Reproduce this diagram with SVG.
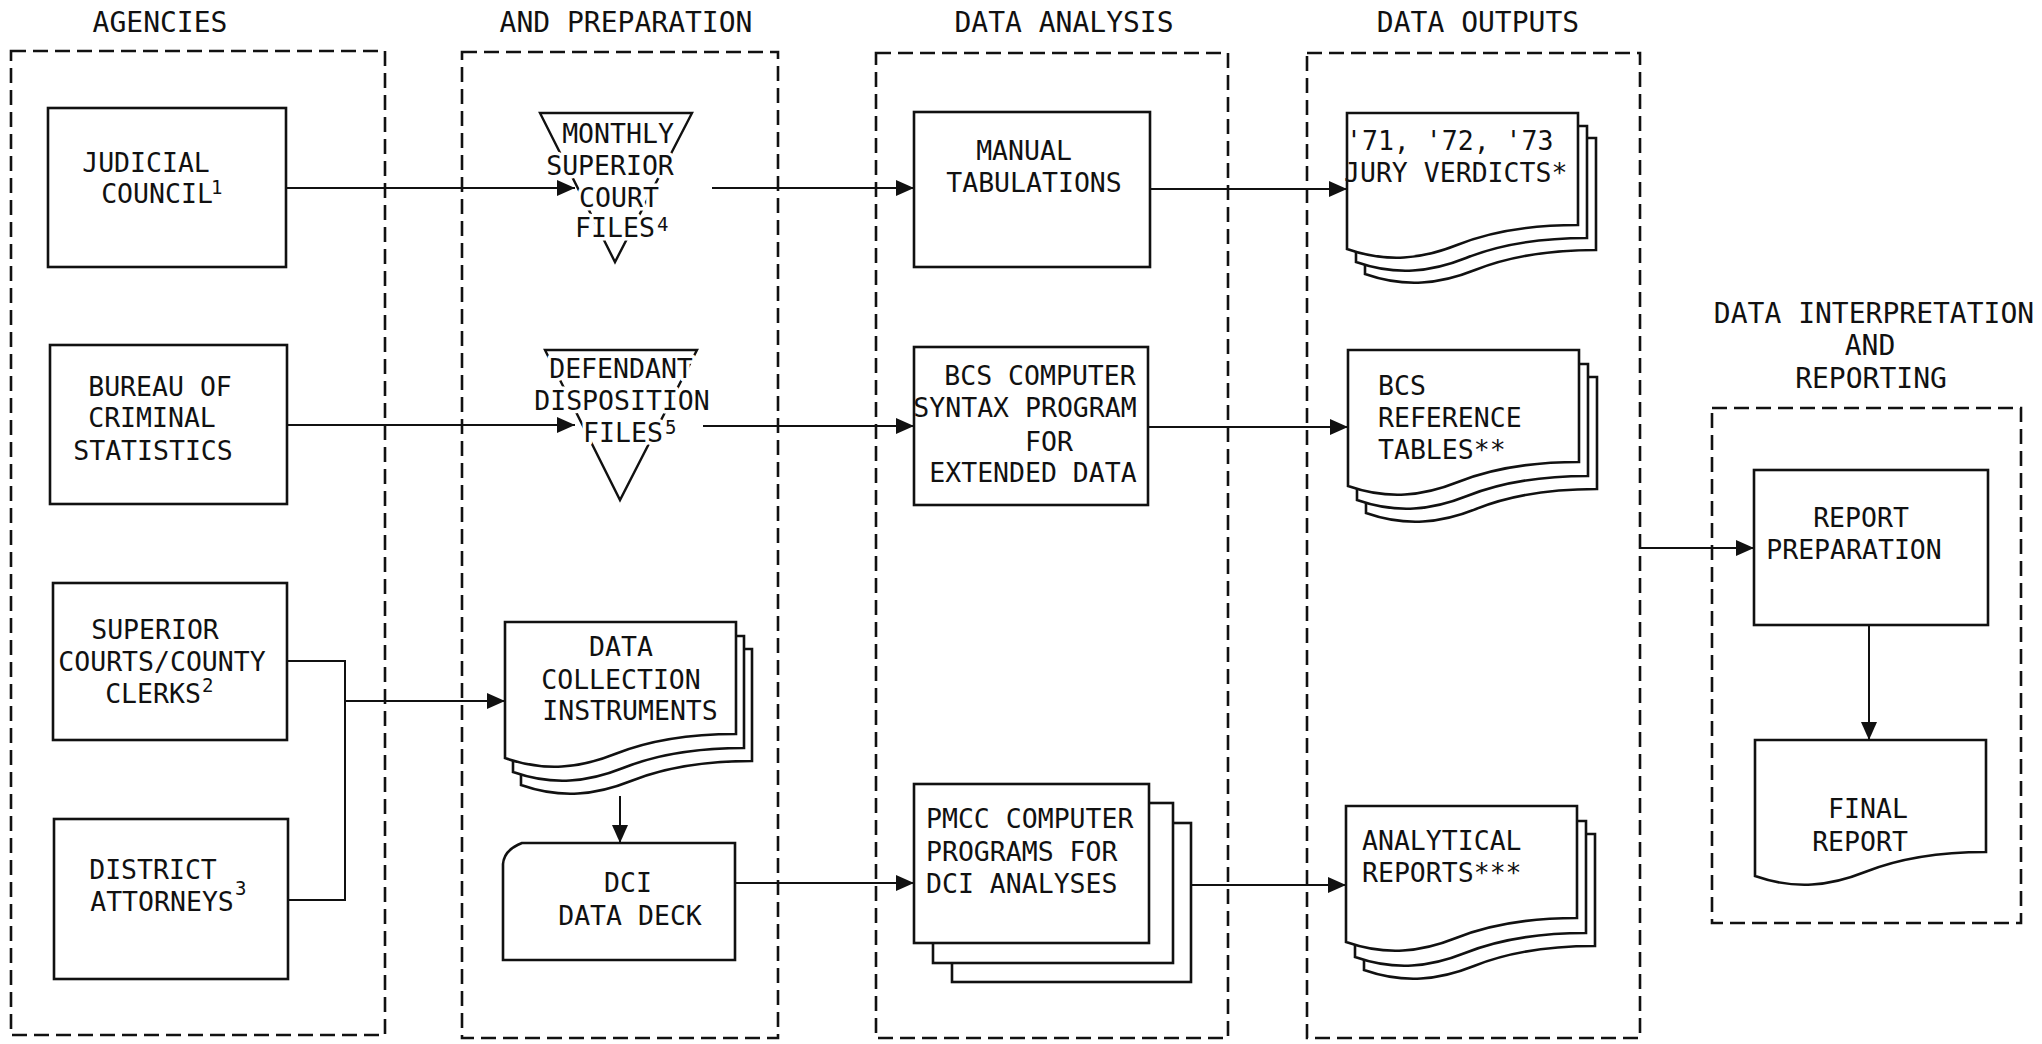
<svg xmlns="http://www.w3.org/2000/svg" xmlns:xlink="http://www.w3.org/1999/xlink" width="2042" height="1044" viewBox="0 0 2042 1044">
  <style>
    text { font-family: "DejaVu Sans Mono", "Liberation Mono", monospace; font-size: 26.5px; fill: #111; }
    .c { text-anchor: middle; }
    .head { font-size: 28px; }
    .sup { font-size: 19px; }
    .halo { paint-order: stroke; stroke: #fff; stroke-width: 7px; stroke-linejoin: round; }
    .frame { fill: none; stroke: #111; stroke-width: 2.6; stroke-dasharray: 15 7; }
    .box { fill: #fff; stroke: #111; stroke-width: 2.6; }
    .tri { fill: none; stroke: #111; stroke-width: 2.4; }
    .link { fill: none; stroke: #111; stroke-width: 2; }
  </style>
  <defs>
    <marker id="arrow" markerUnits="userSpaceOnUse" markerWidth="20" markerHeight="18" refX="18" refY="8" orient="auto">
      <path d="M0,0 L18,8 L0,16 Z" fill="#111"/>
    </marker>
    <!-- printed document outline with wavy lower edge -->
    <path id="doc" d="M0,0 H231 V112 C190,112 150,116 110,132 C75,146 40,150 0,136 Z"/>
  </defs>

  <rect width="2042" height="1044" fill="#fff"/>

  <!-- column headings -->
  <g id="headings">
    <text class="c head" x="160" y="32">AGENCIES</text>
    <text class="c head" x="626" y="32">AND PREPARATION</text>
    <text class="c head" x="1064" y="32">DATA ANALYSIS</text>
    <text class="c head" x="1478" y="32">DATA OUTPUTS</text>
    <text class="c head" x="1874" y="323">DATA INTERPRETATION</text>
    <text class="c head" x="1870" y="355">AND</text>
    <text class="c head" x="1871" y="388">REPORTING</text>
  </g>

  <!-- dashed column frames -->
  <g id="frames">
    <rect id="frame-agencies" class="frame" x="11" y="51" width="374" height="984"/>
    <rect id="frame-collection" class="frame" x="462" y="52" width="316" height="986"/>
    <rect id="frame-analysis" class="frame" x="876" y="53" width="352" height="985"/>
    <rect id="frame-outputs" class="frame" x="1307" y="53" width="333" height="985"/>
    <rect id="frame-reporting" class="frame" x="1712" y="408" width="309" height="515"/>
  </g>

  <!-- agencies -->
  <g id="judicial-council">
    <rect class="box" x="48" y="108" width="238" height="159"/>
    <text class="c" x="146" y="172">JUDICIAL</text>
    <text class="c" x="157" y="203">COUNCIL</text>
    <text class="sup" x="211" y="194">1</text>
  </g>
  <g id="bureau-criminal-statistics">
    <rect class="box" x="50" y="345" width="237" height="159"/>
    <text class="c" x="160" y="396">BUREAU OF</text>
    <text class="c" x="152" y="427">CRIMINAL</text>
    <text class="c" x="153" y="460">STATISTICS</text>
  </g>
  <g id="superior-courts">
    <rect class="box" x="53" y="583" width="234" height="157"/>
    <text class="c" x="155" y="639">SUPERIOR</text>
    <text class="c" x="162" y="671">COURTS/COUNTY</text>
    <text class="c" x="153" y="703">CLERKS</text>
    <text class="sup" x="202" y="692">2</text>
  </g>
  <g id="district-attorneys">
    <rect class="box" x="54" y="819" width="234" height="160"/>
    <text class="c" x="153" y="879">DISTRICT</text>
    <text class="c" x="162" y="911">ATTORNEYS</text>
    <text class="sup" x="235" y="895">3</text>
  </g>

  <!-- collection and preparation -->
  <g id="monthly-files">
    <polygon class="tri" points="540,113 692,113 615,262"/>
    <text class="c halo" x="618" y="143">MONTHLY</text>
    <text class="c halo" x="610" y="175">SUPERIOR</text>
    <text class="c halo" x="619" y="207">COURT</text>
    <text class="c halo" x="615" y="237">FILES</text>
    <text class="sup halo" x="657" y="231" style="stroke-width:5px">4</text>
  </g>
  <g id="defendant-files">
    <polygon class="tri" points="545,350 697,350 620,500"/>
    <text class="c halo" x="621" y="378">DEFENDANT</text>
    <text class="c halo" x="622" y="410">DISPOSITION</text>
    <text class="c halo" x="623" y="442">FILES</text>
    <text class="sup halo" x="665" y="434" style="stroke-width:5px">5</text>
  </g>
  <g id="collection-instruments">
    <use xlink:href="#doc" class="box" x="521" y="649"/>
    <use xlink:href="#doc" class="box" x="513" y="636"/>
    <use xlink:href="#doc" class="box" x="505" y="622"/>
    <text class="c" x="621" y="656">DATA</text>
    <text class="c" x="621" y="689">COLLECTION</text>
    <text class="c" x="630" y="720">INSTRUMENTS</text>
  </g>
  <g id="dci-data-deck">
    <path class="box" d="M522,843 H735 V960 H503 V864 Q504,850 522,843 Z"/>
    <text class="c" x="628" y="892">DCI</text>
    <text class="c" x="630" y="925">DATA DECK</text>
  </g>

  <!-- data analysis -->
  <g id="manual-tabulations">
    <rect class="box" x="914" y="112" width="236" height="155"/>
    <text class="c" x="1024" y="160">MANUAL</text>
    <text class="c" x="1034" y="192">TABULATIONS</text>
  </g>
  <g id="bcs-syntax-program">
    <rect class="box" x="914" y="347" width="234" height="158"/>
    <text class="c" x="1040" y="385">BCS COMPUTER</text>
    <text class="c" x="1025" y="417">SYNTAX PROGRAM</text>
    <text class="c" x="1049" y="451">FOR</text>
    <text class="c" x="1033" y="482">EXTENDED DATA</text>
  </g>
  <g id="pmcc-programs">
    <rect class="box" x="952" y="823" width="239" height="159"/>
    <rect class="box" x="933" y="803" width="240" height="160"/>
    <rect class="box" x="914" y="784" width="235" height="159"/>
    <text x="926" y="828">PMCC COMPUTER</text>
    <text x="926" y="861">PROGRAMS FOR</text>
    <text x="926" y="893">DCI ANALYSES</text>
  </g>

  <!-- data outputs -->
  <g id="jury-verdicts">
    <use xlink:href="#doc" class="box" x="1365" y="138"/>
    <use xlink:href="#doc" class="box" x="1356" y="126"/>
    <use xlink:href="#doc" class="box" x="1347" y="113"/>
    <text x="1346" y="150">'71, '72, '73</text>
    <text x="1344" y="182">JURY VERDICTS*</text>
  </g>
  <g id="bcs-reference-tables">
    <use xlink:href="#doc" class="box" x="1366" y="377"/>
    <use xlink:href="#doc" class="box" x="1357" y="364"/>
    <use xlink:href="#doc" class="box" x="1348" y="350"/>
    <text x="1378" y="395">BCS</text>
    <text x="1378" y="427">REFERENCE</text>
    <text x="1378" y="459">TABLES**</text>
  </g>
  <g id="analytical-reports">
    <use xlink:href="#doc" class="box" x="1364" y="834"/>
    <use xlink:href="#doc" class="box" x="1355" y="821"/>
    <use xlink:href="#doc" class="box" x="1346" y="806"/>
    <text x="1362" y="850">ANALYTICAL</text>
    <text x="1362" y="882">REPORTS***</text>
  </g>

  <!-- interpretation and reporting -->
  <g id="report-preparation">
    <rect class="box" x="1754" y="470" width="234" height="155"/>
    <text class="c" x="1861" y="527">REPORT</text>
    <text class="c" x="1854" y="559">PREPARATION</text>
  </g>
  <g id="final-report">
    <use xlink:href="#doc" class="box" x="1755" y="740"/>
    <text class="c" x="1868" y="818">FINAL</text>
    <text class="c" x="1860" y="851">REPORT</text>
  </g>

  <!-- connectors -->
  <g id="connectors">
    <line class="link" x1="286" y1="188" x2="575" y2="188" marker-end="url(#arrow)"/>
    <line class="link" x1="287" y1="425" x2="575" y2="425" marker-end="url(#arrow)"/>
    <polyline class="link" points="287,661 345,661 345,900 288,900"/>
    <line class="link" x1="345" y1="701" x2="505" y2="701" marker-end="url(#arrow)"/>
    <line class="link" x1="620" y1="796" x2="620" y2="843" marker-end="url(#arrow)"/>
    <line class="link" x1="712" y1="188" x2="914" y2="188" marker-end="url(#arrow)"/>
    <line class="link" x1="703" y1="426" x2="914" y2="426" marker-end="url(#arrow)"/>
    <line class="link" x1="735" y1="883" x2="914" y2="883" marker-end="url(#arrow)"/>
    <line class="link" x1="1150" y1="189" x2="1347" y2="189" marker-end="url(#arrow)"/>
    <line class="link" x1="1148" y1="427" x2="1348" y2="427" marker-end="url(#arrow)"/>
    <line class="link" x1="1191" y1="885" x2="1346" y2="885" marker-end="url(#arrow)"/>
    <line class="link" x1="1640" y1="548" x2="1754" y2="548" marker-end="url(#arrow)"/>
    <line class="link" x1="1869" y1="625" x2="1869" y2="740" marker-end="url(#arrow)"/>
  </g>
</svg>
